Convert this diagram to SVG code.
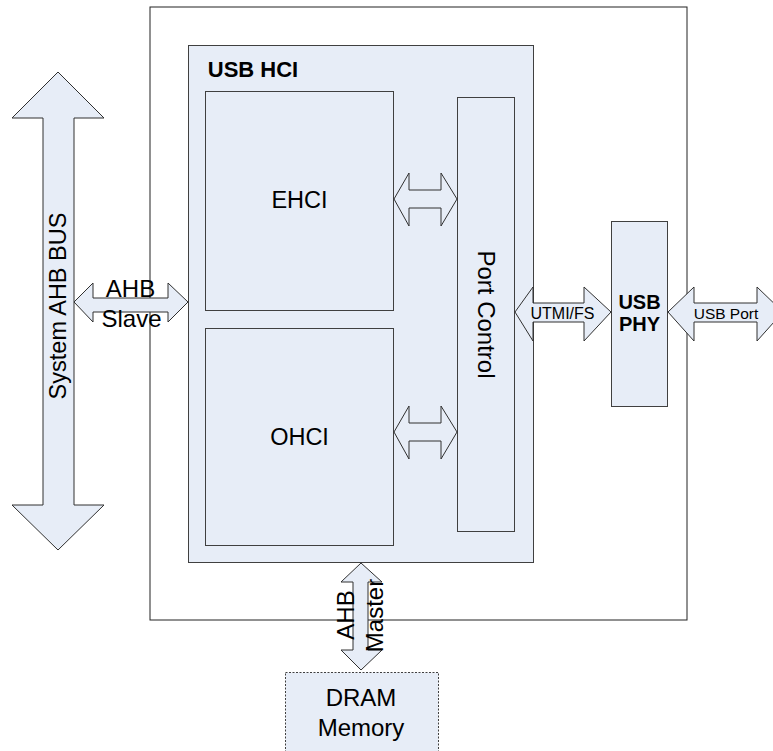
<svg xmlns="http://www.w3.org/2000/svg" width="773" height="751" viewBox="0 0 773 751">
<style>
.box{fill:#e7edf7;stroke:#404040;stroke-width:1}
.wbox{fill:#e7edf7;stroke:#404040;stroke-width:1}
.outer{fill:#ffffff;stroke:#222;stroke-width:1}
.arr{fill:#e7edf7;stroke:#303030;stroke-width:1;stroke-linejoin:miter}
.t{font-family:"Liberation Sans",Arial,sans-serif;fill:#000;text-anchor:middle}
.b{font-weight:bold}
</style>
<rect width="773" height="751" fill="#ffffff"/>
<g id="outer-box"><rect class="outer" x="150" y="7" width="537" height="613"/></g>
<g id="usb-hci">
<rect class="box" x="188.5" y="45.5" width="345" height="517"/>
<text class="t b" x="253" y="77" font-size="22">USB HCI</text>
</g>
<g id="ehci">
<rect class="wbox" x="205.5" y="91.5" width="188" height="219"/>
<text class="t" x="299.5" y="207.5" font-size="23.5">EHCI</text>
</g>
<g id="ohci">
<rect class="wbox" x="205.5" y="328.5" width="188" height="217"/>
<text class="t" x="299.5" y="445" font-size="23.5">OHCI</text>
</g>
<g id="port-control">
<rect class="box" x="457.5" y="97.5" width="57" height="434"/>
<text class="t" transform="translate(478 314.5) rotate(90)" font-size="24">Port Control</text>
</g>
<g id="usb-phy">
<rect class="box" x="611.5" y="221.5" width="56" height="185"/>
<text class="t b" x="639.5" y="309" font-size="20">USB</text>
<text class="t b" x="639.5" y="331" font-size="20">PHY</text>
</g>
<g id="dram-memory">
<rect class="box" x="285.5" y="672.5" width="153" height="90" stroke-dasharray="2,1.5"/>
<text class="t" x="361" y="706" font-size="24">DRAM</text>
<text class="t" x="361" y="736" font-size="24">Memory</text>
</g>
<g id="system-ahb-bus">
<polygon class="arr" points="58,72 104,118 74,118 74,505 104,505 58,550 12,505 43,505 43,118 12,118"/>
<text class="t" transform="translate(66 306) rotate(-90)" font-size="23.5">System AHB BUS</text>
</g>
<g id="connectors">
<g id="ahb-slave">
<polygon class="arr" points="74,302 93,283 93,298 168,298 168,283 188,302 168,322 168,312 93,312 93,322"/>
<text class="t" x="130.5" y="297" font-size="24">AHB</text>
<text class="t" x="131.5" y="327" font-size="24">Slave</text>
</g>
<polygon id="ehci-port" class="arr" points="394,199 409,173 409,190 441,190 441,173 457,199 441,226 441,208 409,208 409,226"/>
<polygon id="ohci-port" class="arr" points="394,432 409,406 409,423 441,423 441,406 457,432 441,459 441,441 409,441 409,459"/>
<g id="utmi-fs">
<polygon class="arr" points="515,312 533,287 533,303 584,303 584,287 611,312 584,341 584,322 533,322 533,341"/>
<text class="t" x="562.5" y="319" font-size="16">UTMI/FS</text>
</g>
<g id="usb-port">
<polygon class="arr" points="668,312 694,287 694,303 757,303 757,287 783,312 757,341 757,322 694,322 694,341"/>
<text class="t" x="726" y="319" font-size="15.5">USB Port</text>
</g>
<g id="ahb-master">
<polygon class="arr" points="361,563 382,582 368,582 368,650 382,650 361,670 341,650 353,650 353,582 341,582"/>
<text class="t" transform="translate(354 615) rotate(-90)" font-size="24">AHB</text>
<text class="t" transform="translate(383 615.5) rotate(-90)" font-size="24">Master</text>
</g>
</g>
</svg>
